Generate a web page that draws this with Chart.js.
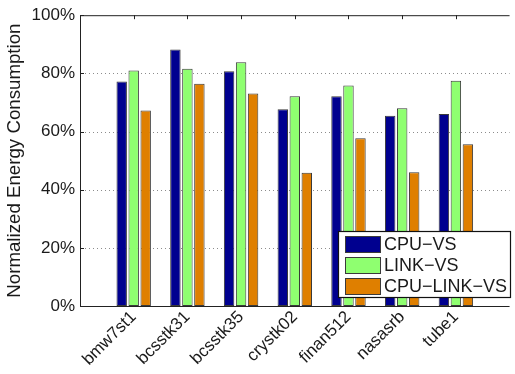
<!DOCTYPE html>
<html>
<head>
<meta charset="utf-8">
<script src="https://cdn.jsdelivr.net/npm/chart.js@4/dist/chart.umd.min.js"></script>
<style>
  html, body { margin: 0; padding: 0; background: #fff; overflow: hidden; }
  #wrap { width: 515px; height: 374px; overflow: hidden; }
  canvas { display: block; }
</style>
</head>
<body>
<div id="wrap"><canvas id="c" width="525" height="374"></canvas></div>
<script>
// Matrices and normalized energy consumption (%) per scheme
const categories = ['bmw7st1', 'bcsstk31', 'bcsstk35', 'crystk02', 'finan512', 'nasasrb', 'tube1'];
const cpuVS     = [77.2, 88.2, 80.7, 67.7, 72.1, 65.4, 66.0];
const linkVS    = [81.0, 81.6, 83.8, 72.1, 75.8, 68.0, 77.5];
const cpuLinkVS = [67.2, 76.4, 73.1, 45.8, 57.7, 46.0, 55.6];
const seriesNames = ['CPU\u2212VS', 'LINK\u2212VS', 'CPU\u2212LINK\u2212VS'];
const yTicks = [0, 20, 40, 60, 80, 100];

const colors = ['rgb(0,0,143)', 'rgb(143,255,112)', 'rgb(223,127,0)'];
const FONT = '"Liberation Sans", Arial, Helvetica, sans-serif';

// one empty slot on each side so the groups sit at 1..7 on a 0..8 range
const pad = arr => [null, ...arr, null];
const labels = ['', ...categories, ''];

const datasets = [cpuVS, linkVS, cpuLinkVS].map((vals, i) => ({
  label: seriesNames[i],
  data: pad(vals),
  backgroundColor: colors[i],
  borderColor: '#3a3a3a',
  borderWidth: 1,
  borderSkipped: false,
  categoryPercentage: 0.67,
  barPercentage: 0.87
}));

// dotted horizontal grid behind the bars
const gridPlugin = {
  id: 'dottedGrid',
  beforeDatasetsDraw(chart) {
    const { ctx, chartArea: a, scales } = chart;
    ctx.save();
    ctx.strokeStyle = '#8c8c8c';
    ctx.lineWidth = 1;
    ctx.setLineDash([1, 3]);
    ctx.beginPath();
    yTicks.filter(v => v > 0 && v < 100).forEach(v => {
      const y = Math.round(scales.y.getPixelForValue(v)) + 0.5;
      ctx.moveTo(a.left + 1, y);
      ctx.lineTo(a.right, y);
    });
    ctx.stroke();
    ctx.restore();
  }
};

// axes frame, inward tick marks and the boxed legend
const framePlugin = {
  id: 'frame',
  afterDraw(chart) {
    const { ctx, chartArea: a, scales } = chart;
    ctx.save();
    ctx.strokeStyle = '#222';
    ctx.lineWidth = 1;
    ctx.beginPath();
    ctx.moveTo(a.left + 0.5, a.top + 0.5);
    ctx.lineTo(a.right, a.top + 0.5);
    ctx.moveTo(a.left + 0.5, a.top);
    ctx.lineTo(a.left + 0.5, a.bottom + 0.5);
    ctx.lineTo(a.right, a.bottom + 0.5);
    // category ticks along top edge
    categories.forEach((c, i) => {
      const x = Math.round(scales.x.getPixelForValue(i + 1)) + 0.5;
      ctx.moveTo(x, a.top);
      ctx.lineTo(x, a.top + 4);
    });
    // value ticks along left edge
    yTicks.forEach(v => {
      const y = Math.round(scales.y.getPixelForValue(v)) + 0.5;
      ctx.moveTo(a.left, y);
      ctx.lineTo(a.left + 4, y);
    });
    ctx.stroke();

    // legend box
    const bx = 338.5, by = 231.5, bw = 172, bh = 66;
    ctx.fillStyle = '#fff';
    ctx.fillRect(bx, by, bw, bh);
    ctx.strokeStyle = '#111';
    ctx.lineWidth = 1.2;
    ctx.strokeRect(bx, by, bw, bh);
    ctx.font = '18px ' + FONT;
    ctx.textBaseline = 'middle';
    ctx.textAlign = 'left';
    chart.data.datasets.forEach((ds, i) => {
      const ry = 236 + i * 21;
      ctx.fillStyle = ds.backgroundColor;
      ctx.fillRect(345, ry, 35, 16);
      ctx.strokeStyle = '#3a3a3a';
      ctx.lineWidth = 1;
      ctx.strokeRect(345.5, ry + 0.5, 35, 16);
      ctx.fillStyle = '#1a1a1a';
      ctx.fillText(ds.label, 384, ry + 9);
    });
    ctx.restore();
  }
};

new Chart(document.getElementById('c'), {
  type: 'bar',
  data: { labels, datasets },
  options: {
    responsive: false,
    animation: false,
    devicePixelRatio: 1,
    layout: { padding: { top: 11, right: 5, left: 0, bottom: 0 } },
    plugins: { legend: { display: false }, tooltip: { enabled: false } },
    scales: {
      x: {
        type: 'category',
        offset: false,
        grid: { display: false, drawTicks: false },
        border: { display: false },
        ticks: {
          autoSkip: false,
          minRotation: 45,
          maxRotation: 45,
          padding: 1,
          color: '#1a1a1a',
          font: { family: FONT, size: 17 }
        },
        afterFit(scale) { scale.height = 68; }
      },
      y: {
        min: 0,
        max: 100,
        afterBuildTicks(scale) { scale.ticks = yTicks.map(v => ({ value: v })); },
        grid: { display: false, drawTicks: false },
        border: { display: false },
        ticks: {
          padding: 5,
          color: '#1a1a1a',
          font: { family: FONT, size: 17 },
          callback: v => v + '%'
        },
        title: {
          display: true,
          text: 'Normalized Energy Consumption',
          color: '#1a1a1a',
          font: { family: FONT, size: 18.7 },
          padding: { top: 4, bottom: 0 }
        },
        afterFit(scale) { scale.width = 80; }
      }
    }
  },
  plugins: [gridPlugin, framePlugin]
});
</script>
</body>
</html>
